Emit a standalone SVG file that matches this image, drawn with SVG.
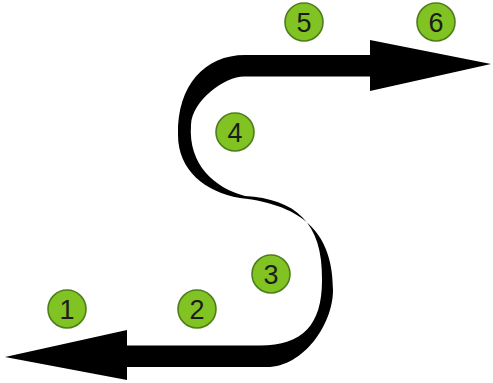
<svg xmlns="http://www.w3.org/2000/svg" width="493" height="383" viewBox="0 0 493 383">
<style>
.badge circle{fill:#80c322;stroke:#4f7d1c;stroke-width:1.6}
.badge text{font-family:"Liberation Sans",Arial,sans-serif;font-size:27px;fill:#1c1c1c;text-anchor:middle}
.band{fill:#000}
</style>
<rect width="493" height="383" fill="#fff"/>
<g id="connectors">
<path class="band" d="M491,64 L370,91 L370,76.5 L244,76.5 C225,76.5 192,100 191,125 C188,165 215,188 245,196 C295,199 323,222 322,280 C322,325 303,345 260,345.5 L127,345.5 L127,330 L5,357 L127,380 L127,367 L267,367 C303,367 333,325 333,290 C333,235 305,205 240,198 C205,192 178,170 178,135 C177,85 205,55 245,55 L370,55 L370,40 Z"/>
</g>
<g id="n1" class="badge"><circle cx="67" cy="309" r="19"/><text x="67" y="319">1</text></g>
<g id="n2" class="badge"><circle cx="197" cy="309" r="19"/><text x="197" y="319">2</text></g>
<g id="n3" class="badge"><circle cx="271" cy="274" r="19"/><text x="271" y="284">3</text></g>
<g id="n4" class="badge"><circle cx="235" cy="132" r="19"/><text x="235" y="142">4</text></g>
<g id="n5" class="badge"><circle cx="304" cy="22" r="19"/><text x="304" y="32">5</text></g>
<g id="n6" class="badge"><circle cx="436" cy="22" r="19"/><text x="436" y="32">6</text></g>
</svg>
